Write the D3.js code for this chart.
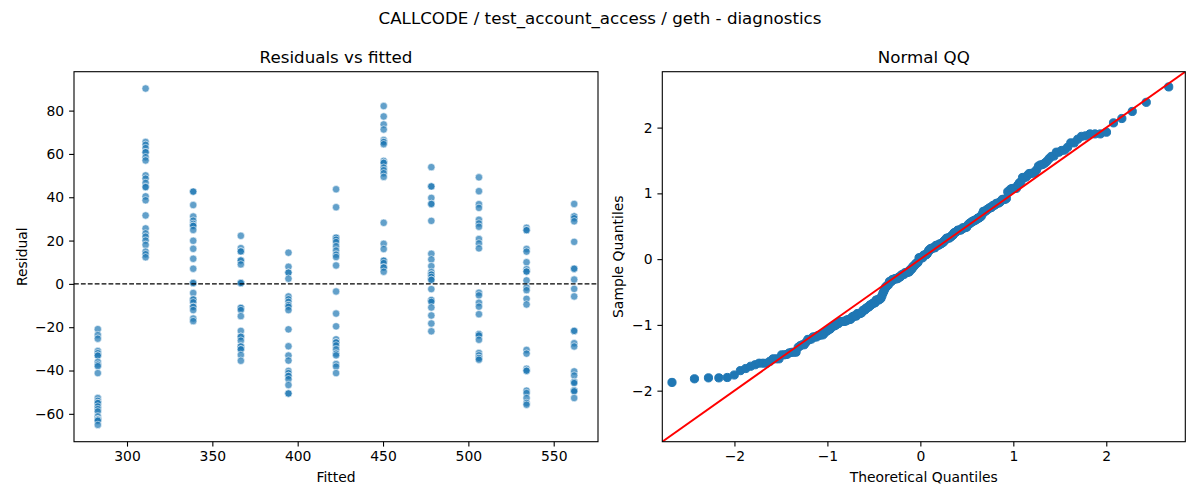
<!DOCTYPE html>
<html><head><meta charset="utf-8">
<script src="https://cdn.jsdelivr.net/npm/d3@7"></script>
<style>body{margin:0;background:#fff} svg{display:block} text{font-family:"DejaVu Sans",sans-serif;fill:#000}</style>
</head><body><svg id="c" width="1200" height="500"></svg>
<script>
// ---- data ----
const suptitle = "CALLCODE / test_account_access / geth - diagnostics";
const fittedValues = [282.9, 310.9, 338.8, 366.7, 394.6, 422.5, 450.4, 478.3, 506.2, 534.1, 562.0];
const res282 = [-20.9,-23.6,-25.3,-31.0,-32.0,-33.1,-33.1,-36.0,-37.3,-38.0,-41.2,-52.7,-54.0,-55.0,-55.0,-56.6,-57.8,-58.9,-61.2,-62.5,-62.7,-62.7,-63.2,-65.1];
const res310 = [90.2,65.5,64.2,62.7,60.8,60.8,58.5,57.0,50.1,48.6,46.6,44.7,44.7,40.4,38.6,31.6,25.6,23.3,21.8,20.0,18.0,14.9,13.7,12.3];
const res338 = [42.6,42.6,36.4,31.1,29.2,27.7,26.8,26.8,24.9,19.9,16.2,11.6,7.0,0.4,0.4,-4.2,-7.2,-7.2,-8.5,-10.6,-10.6,-12.1,-16.0,-17.2];
const res366 = [22.2,16.5,15.0,15.0,10.8,10.8,9.0,0.4,0.4,0.4,-11.1,-11.1,-12.1,-14.9,-21.7,-24.4,-24.4,-26.2,-28.9,-28.9,-30.2,-30.2,-32.8,-35.5];
const res394 = [14.4,7.9,5.2,5.2,2.4,-5.8,-7.1,-8.3,-9.8,-9.8,-10.6,-12.1,-21.0,-28.8,-33.1,-35.4,-40.2,-41.2,-42.5,-42.5,-44.0,-46.7,-50.6,-50.6];
const res422 = [43.7,35.4,21.3,21.3,20.4,19.3,17.4,15.4,13.5,12.4,8.5,-3.5,-13.7,-19.6,-25.6,-27.0,-27.0,-28.4,-30.2,-32.2,-33.0,-37.0,-38.2,-41.2];
const res450 = [82.1,77.3,73.6,71.3,66.4,65.5,65.5,64.5,56.8,55.9,55.9,53.7,52.5,51.1,49.4,28.2,18.5,16.1,10.7,10.7,9.6,7.6,7.6,5.6];
const res478 = [53.9,45.0,45.0,39.7,36.9,36.9,29.1,13.9,11.3,8.2,5.5,4.3,4.3,3.2,1.9,1.9,-2.4,-7.5,-7.5,-8.3,-10.9,-14.6,-18.3,-21.9];
const res506 = [49.2,42.8,36.8,35.1,29.6,27.9,26.4,20.7,18.7,16.4,-4.1,-5.3,-8.7,-10.5,-14.0,-23.2,-23.2,-23.8,-25.8,-31.9,-33.0,-34.2,-34.2,-35.0];
const res534 = [25.9,24.8,24.8,16.1,14.9,10.0,6.8,5.7,5.7,1.6,-1.7,-2.9,-6.9,-9.5,-30.5,-32.2,-39.2,-40.1,-40.1,-49.3,-50.4,-52.7,-55.0,-55.8];
const res562 = [36.9,31.1,31.1,30.3,28.9,19.4,7.0,7.0,2.0,-2.3,-5.8,-21.7,-21.7,-27.4,-28.9,-40.4,-42.3,-45.3,-45.3,-45.8,-49.2,-49.2,-49.6,-52.7];
const residualGroups = [res282,res310,res338,res366,res394,res422,res450,res478,res506,res534,res562];
const residTicks = [-60,-40,-20,0,20,40,60,80];
const fittedTicks = [300,350,400,450,500,550];
const qqTicks = [-2,-1,0,1,2];
const qqLimits = [-2.776, 2.85];

// ---- derived table ----
const points = [];
residualGroups.forEach((g,i)=>g.forEach(r=>points.push({fitted:fittedValues[i], resid:r})));

function normInv(p){
 const a=[-3.969683028665376e+01,2.209460984245205e+02,-2.759285104469687e+02,1.383577518672690e+02,-3.066479806614716e+01,2.506628277459239e+00];
 const b=[-5.447609879822406e+01,1.615858368580409e+02,-1.556989798598866e+02,6.680131188771972e+01,-1.328068155288572e+01];
 const c=[-7.784894002430293e-03,-3.223964580411365e-01,-2.400758277161838e+00,-2.549732539343734e+00,4.374664141464968e+00,2.938163982698783e+00];
 const d=[7.784695709041462e-03,3.224671290700398e-01,2.445134137142996e+00,3.754408661907416e+00];
 const pl=0.02425, ph=1-pl; let q,r;
 if(p<pl){q=Math.sqrt(-2*Math.log(p));return (((((c[0]*q+c[1])*q+c[2])*q+c[3])*q+c[4])*q+c[5])/((((d[0]*q+d[1])*q+d[2])*q+d[3])*q+1);}
 if(p<=ph){q=p-0.5;r=q*q;return (((((a[0]*r+a[1])*r+a[2])*r+a[3])*r+a[4])*r+a[5])*q/(((((b[0]*r+b[1])*r+b[2])*r+b[3])*r+b[4])*r+1);}
 q=Math.sqrt(-2*Math.log(1-p));return -(((((c[0]*q+c[1])*q+c[2])*q+c[3])*q+c[4])*q+c[5])/((((d[0]*q+d[1])*q+d[2])*q+d[3])*q+1);
}
const allRes = points.map(p=>p.resid);
const mu = d3.mean(allRes);
const sd = Math.sqrt(d3.mean(allRes, v=>(v-mu)*(v-mu)));
const sortedStd = allRes.map(v=>(v-mu)/sd).sort(d3.ascending);
const nObs = sortedStd.length;
const qq = sortedStd.map((s,i)=>({theo: normInv((i+1)/(nObs+1)), samp: s}));

// ---- drawing ----
const svg = d3.select("#c");
const FS = 13.9;
const yTop = 71.7, yBot = 441.7;
const L = {x0:74, x1:598}, R = {x0:662.3, x1:1185.3};

svg.append("text").attr("x",600).attr("y",24).attr("text-anchor","middle").style("font-size","16.7px").text(suptitle);

function styleAxis(g){
  g.selectAll(".domain").remove();
  g.selectAll(".tick line").attr("stroke","#000").attr("stroke-width",1.1);
  g.selectAll(".tick text").style("font-size",FS+"px").style("font-family","'DejaVu Sans',sans-serif").attr("fill","#000");
}
function frame(p){
  svg.append("rect").attr("x",p.x0).attr("y",yTop).attr("width",p.x1-p.x0).attr("height",yBot-yTop)
    .attr("fill","none").attr("stroke","#000").attr("stroke-width",1.1);
}

// Left: residuals vs fitted
const fx = d3.extent(fittedValues), fpad = (fx[1]-fx[0])*0.05;
const rx = d3.extent(allRes), rpad = (rx[1]-rx[0])*0.05;
const xL = d3.scaleLinear().domain([fx[0]-fpad, fx[1]+fpad]).range([L.x0, L.x1]);
const yL = d3.scaleLinear().domain([rx[0]-rpad, rx[1]+rpad]).range([yBot, yTop]);

const gL = svg.append("g");
gL.selectAll("circle").data(points).join("circle")
  .attr("cx",d=>xL(d.fitted)).attr("cy",d=>yL(d.resid)).attr("r",3.7)
  .attr("fill","#1f77b4").attr("fill-opacity",0.7).attr("stroke","#fff").attr("stroke-width",0.7).attr("stroke-opacity",0.8);
svg.append("line").attr("x1",L.x0).attr("x2",L.x1).attr("y1",yL(0)).attr("y2",yL(0))
  .attr("stroke","#000").attr("stroke-width",1.3).attr("stroke-dasharray","4.8,2.1");
frame(L);
svg.append("g").attr("transform",`translate(0,${yBot})`)
  .call(d3.axisBottom(xL).tickValues(fittedTicks).tickSize(4.9).tickPadding(4.9).tickFormat(d3.format("d"))).call(styleAxis);
svg.append("g").attr("transform",`translate(${L.x0},0)`)
  .call(d3.axisLeft(yL).tickValues(residTicks).tickSize(4.9).tickPadding(4.9).tickFormat(d3.format("d"))).call(styleAxis);
svg.append("text").attr("x",(L.x0+L.x1)/2).attr("y",63).attr("text-anchor","middle").style("font-size","16.7px").text("Residuals vs fitted");
svg.append("text").attr("x",(L.x0+L.x1)/2).attr("y",482).attr("text-anchor","middle").style("font-size",FS+"px").text("Fitted");
svg.append("text").attr("transform",`translate(22,${(yTop+yBot)/2}) rotate(-90)`).attr("text-anchor","middle")
  .attr("dominant-baseline","central").style("font-size",FS+"px").text("Residual");

// Right: Normal QQ
const xR = d3.scaleLinear().domain(qqLimits).range([R.x0, R.x1]);
const yR = d3.scaleLinear().domain(qqLimits).range([yBot, yTop]);
svg.append("clipPath").attr("id","qqclip").append("rect")
  .attr("x",R.x0).attr("y",yTop).attr("width",R.x1-R.x0).attr("height",yBot-yTop);
const gR = svg.append("g").attr("clip-path","url(#qqclip)");
gR.selectAll("circle").data(qq).join("circle")
  .attr("cx",d=>xR(d.theo)).attr("cy",d=>yR(d.samp)).attr("r",4.1)
  .attr("fill","#1f77b4").attr("stroke","#1f77b4").attr("stroke-width",1);
gR.append("line").attr("x1",xR(qqLimits[0])).attr("y1",yR(qqLimits[0])).attr("x2",xR(qqLimits[1])).attr("y2",yR(qqLimits[1]))
  .attr("stroke","red").attr("stroke-width",1.9);
frame(R);
svg.append("g").attr("transform",`translate(0,${yBot})`)
  .call(d3.axisBottom(xR).tickValues(qqTicks).tickSize(4.9).tickPadding(4.9).tickFormat(d3.format("d"))).call(styleAxis);
svg.append("g").attr("transform",`translate(${R.x0},0)`)
  .call(d3.axisLeft(yR).tickValues(qqTicks).tickSize(4.9).tickPadding(4.9).tickFormat(d3.format("d"))).call(styleAxis);
svg.append("text").attr("x",(R.x0+R.x1)/2).attr("y",63).attr("text-anchor","middle").style("font-size","16.7px").text("Normal QQ");
svg.append("text").attr("x",(R.x0+R.x1)/2).attr("y",482).attr("text-anchor","middle").style("font-size",FS+"px").text("Theoretical Quantiles");
svg.append("text").attr("transform",`translate(618,${(yTop+yBot)/2}) rotate(-90)`).attr("text-anchor","middle")
  .attr("dominant-baseline","central").style("font-size",FS+"px").text("Sample Quantiles");
</script></body></html>
